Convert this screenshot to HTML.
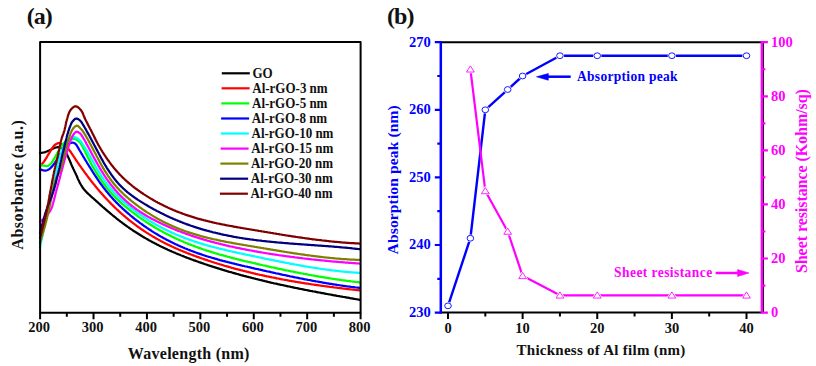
<!DOCTYPE html>
<html><head><meta charset="utf-8"><style>
html,body{margin:0;padding:0;background:#fff;overflow:hidden;}
svg{display:block;}
text{font-family:"Liberation Serif",serif;font-weight:bold;}
</style></head><body>
<svg width="816" height="366" viewBox="0 0 816 366">
<g fill="none" stroke-width="2.25" stroke-linejoin="round" stroke-linecap="round">
<path d="M40.0,153.2L40.9,153.0L41.7,152.8L42.6,152.7L43.5,152.5L44.3,152.3L45.2,152.1L46.0,151.8L46.9,151.5L47.7,151.1L48.5,150.7L49.4,150.3L50.2,149.9L51.0,149.5L51.8,149.1L52.7,148.7L53.5,148.4L54.3,148.0L55.2,147.7L56.0,147.5L56.9,147.3L57.8,147.2L58.8,147.1L59.7,147.2L60.5,147.3L61.4,147.6L62.3,148.1L63.2,148.7L64.0,149.5L64.5,150.1L65.0,150.7L65.4,151.4L65.8,152.2L66.2,153.0L66.7,153.8L67.1,154.6L67.5,155.5L67.8,156.2L68.2,157.0L68.5,157.7L68.9,158.5L69.2,159.4L69.6,160.2L69.9,161.1L70.3,161.9L70.6,162.8L71.0,163.6L71.3,164.4L71.7,165.2L72.0,166.0L72.4,166.8L72.7,167.6L73.1,168.4L73.5,169.2L73.9,169.9L74.2,170.7L74.6,171.5L75.0,172.2L75.3,172.9L75.7,173.7L76.0,174.4L76.4,175.3L76.8,176.1L77.1,177.0L77.5,177.8L77.8,178.6L78.2,179.5L78.6,180.3L79.0,181.1L79.4,181.9L79.8,182.7L80.2,183.5L80.7,184.3L81.1,185.0L81.6,185.8L82.1,186.6L82.5,187.3L83.0,188.0L83.5,188.7L84.1,189.4L84.7,190.1L85.2,190.8L85.8,191.4L86.4,192.0L87.0,192.7L87.7,193.3L88.3,193.9L89.0,194.5L89.7,195.1L90.3,195.7L91.0,196.4L91.7,197.0L92.3,197.6L93.0,198.2L93.7,198.7L94.3,199.3L95.0,199.9L95.7,200.5L96.3,201.1L97.0,201.7L97.7,202.3L98.3,202.9L99.0,203.5L99.7,204.1L100.3,204.7L101.0,205.3L101.7,205.9L102.3,206.5L103.0,207.1L103.7,207.6L104.3,208.2L105.0,208.8L105.7,209.4L106.3,210.0L107.0,210.5L107.7,211.1L108.3,211.7L109.0,212.2L109.7,212.8L110.3,213.4L111.0,213.9L111.7,214.5L112.3,215.0L113.0,215.6L113.7,216.1L114.3,216.7L115.0,217.2L115.7,217.7L116.3,218.3L117.0,218.8L117.7,219.3L118.3,219.9L119.0,220.4L119.7,220.9L120.3,221.4L121.0,221.9L121.7,222.4L122.3,222.9L123.0,223.4L123.8,224.0L124.6,224.6L125.4,225.2L126.2,225.7L127.0,226.3L127.8,226.9L128.6,227.4L129.4,228.0L130.2,228.6L131.0,229.1L131.8,229.6L132.6,230.2L133.4,230.7L134.2,231.2L135.0,231.8L135.8,232.3L136.6,232.8L137.4,233.3L138.2,233.8L139.0,234.3L139.8,234.8L140.6,235.3L141.4,235.8L142.2,236.3L143.0,236.7L143.8,237.2L144.6,237.7L145.4,238.1L146.2,238.6L147.0,239.1L147.8,239.5L148.6,240.0L149.4,240.4L150.2,240.9L151.0,241.3L151.8,241.7L152.6,242.2L153.4,242.6L154.2,243.0L155.0,243.4L155.8,243.8L156.6,244.3L157.4,244.7L158.2,245.1L159.0,245.5L159.8,245.9L160.6,246.3L161.4,246.7L162.2,247.0L163.0,247.4L163.8,247.8L164.6,248.2L165.4,248.6L166.2,248.9L167.0,249.3L167.8,249.7L168.6,250.0L169.4,250.4L170.2,250.8L171.0,251.1L171.8,251.5L172.6,251.8L173.4,252.2L174.2,252.5L175.0,252.8L175.8,253.2L176.6,253.5L177.4,253.9L178.2,254.2L179.0,254.5L179.8,254.8L180.6,255.2L181.4,255.5L182.2,255.8L183.0,256.1L183.8,256.4L184.6,256.8L185.4,257.1L186.2,257.4L187.0,257.7L187.8,258.0L188.6,258.3L189.4,258.6L190.2,258.9L191.0,259.2L191.8,259.5L192.6,259.8L193.4,260.1L194.2,260.4L195.0,260.6L195.8,260.9L196.6,261.2L197.4,261.5L198.2,261.8L199.0,262.1L199.8,262.3L200.6,262.6L201.4,262.9L202.2,263.2L203.0,263.4L203.8,263.7L204.6,264.0L205.4,264.3L206.2,264.5L207.0,264.8L207.8,265.1L208.6,265.3L209.4,265.6L210.2,265.8L211.0,266.1L211.8,266.4L212.6,266.6L213.4,266.9L214.2,267.1L215.0,267.4L215.8,267.7L216.6,267.9L217.4,268.2L218.2,268.4L219.0,268.7L219.8,268.9L220.6,269.2L221.4,269.4L222.2,269.6L223.0,269.9L223.8,270.1L224.6,270.4L225.4,270.6L226.2,270.8L227.0,271.1L227.8,271.3L228.6,271.6L229.4,271.8L230.2,272.0L231.0,272.2L232.0,272.5L233.0,272.8L234.0,273.1L235.0,273.4L236.0,273.7L237.0,274.0L238.0,274.2L239.0,274.5L240.0,274.8L241.0,275.1L242.0,275.3L243.0,275.6L244.0,275.9L245.0,276.1L246.0,276.4L247.0,276.7L248.0,276.9L249.0,277.2L250.0,277.4L251.0,277.7L252.0,278.0L253.0,278.2L254.0,278.5L255.0,278.7L256.0,279.0L257.0,279.2L258.0,279.5L259.0,279.7L260.0,280.0L261.0,280.2L262.0,280.4L263.0,280.7L264.0,280.9L265.0,281.2L266.0,281.4L267.0,281.6L268.0,281.9L269.0,282.1L270.0,282.3L271.0,282.6L272.0,282.8L273.0,283.0L274.0,283.3L275.0,283.5L276.0,283.7L277.0,283.9L278.0,284.2L279.0,284.4L280.0,284.6L281.0,284.8L282.0,285.0L283.0,285.2L284.0,285.5L285.0,285.7L286.0,285.9L287.0,286.1L288.0,286.3L289.0,286.5L290.0,286.7L291.0,287.0L292.0,287.2L293.0,287.4L294.0,287.6L295.0,287.8L296.0,288.0L297.0,288.2L298.0,288.4L299.0,288.6L300.0,288.8L301.0,289.0L302.0,289.2L303.0,289.4L304.0,289.6L305.0,289.8L306.0,290.0L307.0,290.2L308.0,290.4L309.0,290.6L310.0,290.8L311.0,291.0L312.0,291.2L313.0,291.4L314.0,291.5L315.0,291.7L316.0,291.9L317.0,292.1L318.0,292.3L319.0,292.5L320.0,292.7L321.0,292.9L322.0,293.1L323.0,293.2L324.0,293.4L325.0,293.6L326.0,293.8L327.0,294.0L328.0,294.2L329.0,294.3L330.0,294.5L331.0,294.7L332.0,294.9L333.0,295.1L334.0,295.3L335.0,295.4L336.0,295.6L337.0,295.8L338.0,296.0L339.0,296.1L340.0,296.3L341.0,296.5L342.0,296.7L343.0,296.9L344.0,297.0L345.0,297.2L346.0,297.4L347.0,297.6L348.0,297.7L349.0,297.9L350.0,298.1L351.0,298.3L352.0,298.4L353.0,298.6L354.0,298.8L355.0,299.0L356.1,299.2L357.2,299.3L358.2,299.5L359.0,299.7L359.5,299.8L360.0,299.9" stroke="#000000"/>
<path d="M40.0,166.5L40.6,165.8L41.2,165.1L41.7,164.4L42.3,163.7L42.9,162.9L43.5,162.2L44.1,161.5L44.6,160.7L45.1,160.0L45.6,159.2L46.1,158.4L46.5,157.6L47.0,156.8L47.4,156.0L47.9,155.2L48.4,154.4L48.9,153.6L49.4,152.9L49.8,152.1L50.3,151.2L50.8,150.4L51.3,149.6L51.8,148.8L52.3,148.0L52.9,147.2L53.4,146.5L53.9,145.9L54.4,145.4L55.2,144.7L55.9,144.2L56.7,143.7L57.5,143.4L58.2,143.2L59.2,143.2L60.1,143.5L61.0,143.8L61.8,144.2L62.6,144.7L63.5,145.3L64.1,145.7L64.8,146.2L65.5,146.7L66.3,147.3L67.0,147.8L67.7,148.5L68.4,149.1L69.0,149.8L69.6,150.5L70.2,151.2L70.7,152.0L71.3,152.8L71.8,153.6L72.3,154.4L72.8,155.1L73.3,155.9L73.8,156.7L74.3,157.4L74.8,158.2L75.3,159.0L75.8,159.8L76.3,160.4L76.8,161.1L77.3,161.9L77.8,162.6L78.3,163.3L78.8,164.0L79.3,164.8L79.8,165.5L80.3,166.2L80.8,166.9L81.3,167.6L81.8,168.3L82.3,169.0L82.8,169.7L83.3,170.4L83.8,171.1L84.3,171.8L84.8,172.5L85.3,173.2L85.8,173.8L86.3,174.5L86.8,175.2L87.3,175.9L87.8,176.5L88.4,177.3L88.9,178.0L89.5,178.8L90.1,179.5L90.7,180.3L91.2,181.0L91.8,181.7L92.4,182.5L92.9,183.2L93.5,183.9L94.1,184.6L94.7,185.3L95.2,186.0L95.8,186.7L96.4,187.4L96.9,188.1L97.5,188.8L98.1,189.5L98.7,190.1L99.2,190.8L99.8,191.5L100.4,192.1L100.9,192.8L101.5,193.4L102.1,194.1L102.7,194.7L103.2,195.4L103.8,196.0L104.4,196.6L104.9,197.3L105.5,197.9L106.1,198.5L106.7,199.1L107.2,199.7L107.8,200.3L108.5,201.0L109.1,201.7L109.8,202.4L110.5,203.1L111.1,203.8L111.8,204.4L112.5,205.1L113.1,205.8L113.8,206.4L114.5,207.1L115.1,207.7L115.8,208.4L116.5,209.0L117.1,209.6L117.8,210.2L118.5,210.8L119.1,211.5L119.8,212.1L120.5,212.7L121.1,213.3L121.8,213.9L122.5,214.4L123.1,215.0L123.8,215.6L124.5,216.2L125.1,216.7L125.8,217.3L126.5,217.9L127.1,218.4L127.8,219.0L128.5,219.5L129.1,220.1L129.8,220.6L130.5,221.1L131.1,221.7L131.8,222.2L132.5,222.7L133.1,223.2L133.8,223.7L134.5,224.2L135.1,224.7L135.8,225.2L136.6,225.8L137.4,226.4L138.2,227.0L139.0,227.5L139.8,228.1L140.6,228.7L141.4,229.2L142.2,229.8L143.0,230.3L143.8,230.8L144.6,231.4L145.4,231.9L146.2,232.4L147.0,232.9L147.8,233.4L148.6,233.9L149.4,234.4L150.2,234.9L151.0,235.4L151.8,235.9L152.6,236.4L153.4,236.8L154.2,237.3L155.0,237.8L155.8,238.2L156.6,238.7L157.4,239.1L158.2,239.6L159.0,240.0L159.8,240.4L160.6,240.9L161.4,241.3L162.2,241.7L163.0,242.1L163.8,242.6L164.6,243.0L165.4,243.4L166.2,243.8L167.0,244.2L167.8,244.6L168.6,244.9L169.4,245.3L170.2,245.7L171.0,246.1L171.8,246.5L172.6,246.8L173.4,247.2L174.2,247.6L175.0,247.9L175.8,248.3L176.6,248.6L177.4,249.0L178.2,249.3L179.0,249.7L179.8,250.0L180.6,250.4L181.4,250.7L182.2,251.0L183.0,251.4L183.8,251.7L184.6,252.0L185.4,252.3L186.2,252.6L187.0,253.0L187.8,253.3L188.6,253.6L189.4,253.9L190.2,254.2L191.0,254.5L191.8,254.8L192.6,255.1L193.4,255.4L194.2,255.7L195.0,256.0L195.8,256.3L196.6,256.6L197.4,256.9L198.2,257.1L199.0,257.4L199.8,257.7L200.6,258.0L201.4,258.3L202.2,258.5L203.0,258.8L203.8,259.1L204.6,259.4L205.4,259.6L206.2,259.9L207.0,260.2L207.8,260.4L208.6,260.7L209.4,261.0L210.2,261.2L211.0,261.5L211.8,261.8L212.6,262.0L213.4,262.3L214.2,262.5L215.0,262.8L215.8,263.0L216.6,263.3L217.4,263.5L218.2,263.8L219.0,264.0L219.8,264.3L220.6,264.5L221.4,264.7L222.2,265.0L223.0,265.2L223.8,265.5L224.8,265.8L225.8,266.0L226.8,266.3L227.8,266.6L228.8,266.9L229.8,267.2L230.8,267.5L231.8,267.8L232.8,268.0L233.8,268.3L234.8,268.6L235.8,268.9L236.8,269.1L237.8,269.4L238.8,269.6L239.8,269.9L240.8,270.2L241.8,270.4L242.8,270.7L243.8,270.9L244.8,271.2L245.8,271.4L246.8,271.7L247.8,271.9L248.8,272.2L249.8,272.4L250.8,272.7L251.8,272.9L252.8,273.1L253.8,273.4L254.8,273.6L255.8,273.9L256.8,274.1L257.8,274.3L258.8,274.5L259.8,274.8L260.8,275.0L261.8,275.2L262.8,275.4L263.8,275.6L264.8,275.9L265.8,276.1L266.8,276.3L267.8,276.5L268.8,276.7L269.8,276.9L270.8,277.1L271.8,277.3L272.8,277.5L273.8,277.7L274.8,277.9L275.8,278.1L276.8,278.3L277.8,278.5L278.8,278.7L279.8,278.9L280.8,279.1L281.8,279.3L282.8,279.5L283.8,279.7L284.8,279.8L285.8,280.0L286.8,280.2L287.8,280.4L288.8,280.6L289.8,280.8L290.8,280.9L291.8,281.1L292.8,281.3L293.8,281.4L294.8,281.6L295.8,281.8L296.8,282.0L297.8,282.1L298.8,282.3L299.8,282.4L300.8,282.6L301.8,282.8L302.8,282.9L303.8,283.1L304.8,283.3L305.8,283.4L306.8,283.6L307.8,283.7L308.8,283.9L309.8,284.0L310.8,284.2L311.8,284.3L312.8,284.5L313.8,284.6L314.8,284.8L315.8,284.9L316.8,285.1L317.8,285.2L318.8,285.3L319.8,285.5L320.8,285.6L321.8,285.8L322.8,285.9L323.8,286.0L324.8,286.2L325.8,286.3L326.8,286.4L327.8,286.6L328.8,286.7L329.8,286.8L330.8,287.0L331.8,287.1L332.8,287.2L333.8,287.4L334.8,287.5L335.8,287.6L336.8,287.7L337.8,287.9L338.8,288.0L339.8,288.1L340.8,288.2L341.8,288.3L342.8,288.5L343.8,288.6L344.8,288.7L345.8,288.8L346.8,288.9L347.8,289.1L348.8,289.2L349.8,289.3L350.8,289.4L351.8,289.5L352.8,289.6L353.8,289.7L354.8,289.9L355.8,290.0L356.9,290.1L358.1,290.2L359.2,290.3L359.8,290.4L359.9,290.4L360.0,290.4" stroke="#ff0000"/>
<path d="M40.0,165.0L41.0,165.2L42.0,165.3L43.0,165.5L44.0,165.6L44.9,165.8L45.8,166.0L46.7,166.1L47.5,166.0L48.2,165.7L49.0,165.3L49.7,164.8L50.3,164.2L51.0,163.5L51.5,162.9L52.0,162.2L52.5,161.5L53.0,160.7L53.5,159.9L53.9,159.1L54.4,158.3L54.9,157.5L55.3,156.8L55.7,156.0L56.2,155.2L56.6,154.4L57.1,153.6L57.5,152.8L58.0,152.0L58.4,151.3L58.9,150.5L59.3,149.7L59.7,149.0L60.2,148.2L60.6,147.5L61.1,146.7L61.5,146.0L62.0,145.4L62.6,144.6L63.3,143.8L63.9,143.1L64.6,142.5L65.3,141.8L66.0,141.3L66.8,140.8L67.6,140.4L68.5,140.1L69.3,139.8L70.2,139.5L71.0,139.3L72.0,139.1L73.0,138.9L74.0,138.8L75.0,139.0L75.7,139.3L76.5,139.6L77.2,140.1L78.0,140.7L78.7,141.3L79.4,141.9L80.0,142.5L80.5,143.1L81.0,143.8L81.4,144.5L81.8,145.2L82.2,146.0L82.6,146.7L83.0,147.6L83.4,148.3L83.8,149.0L84.2,149.8L84.6,150.6L85.0,151.5L85.4,152.3L85.8,153.1L86.2,154.0L86.6,154.8L87.0,155.6L87.4,156.4L87.8,157.2L88.2,158.0L88.6,158.8L89.0,159.6L89.4,160.4L89.8,161.1L90.2,161.9L90.6,162.7L91.0,163.5L91.4,164.3L91.9,165.1L92.3,165.9L92.8,166.7L93.2,167.4L93.6,168.2L94.1,169.0L94.5,169.7L95.0,170.5L95.4,171.2L95.9,172.0L96.3,172.7L96.8,173.4L97.2,174.1L97.7,174.8L98.1,175.5L98.5,176.2L99.0,176.9L99.5,177.7L100.0,178.4L100.5,179.1L101.0,179.9L101.5,180.6L102.0,181.3L102.5,182.0L103.0,182.7L103.6,183.5L104.1,184.3L104.7,185.0L105.3,185.8L105.8,186.5L106.4,187.3L107.0,188.0L107.6,188.7L108.1,189.4L108.7,190.1L109.3,190.7L109.8,191.4L110.4,192.1L111.0,192.7L111.6,193.4L112.1,194.0L112.7,194.6L113.3,195.2L113.8,195.8L114.4,196.4L115.0,197.0L115.7,197.7L116.3,198.4L117.0,199.0L117.7,199.7L118.3,200.3L119.0,200.9L119.7,201.6L120.3,202.2L121.0,202.8L121.7,203.4L122.3,204.0L123.0,204.6L123.7,205.1L124.3,205.7L125.0,206.3L125.7,206.8L126.3,207.4L127.0,207.9L127.7,208.5L128.3,209.0L129.0,209.5L129.7,210.1L130.3,210.6L131.0,211.1L131.7,211.6L132.3,212.1L133.0,212.6L133.7,213.1L134.3,213.6L135.0,214.1L135.8,214.7L136.6,215.3L137.4,215.9L138.2,216.5L139.0,217.1L139.8,217.6L140.6,218.2L141.4,218.7L142.2,219.3L143.0,219.8L143.8,220.4L144.6,220.9L145.4,221.4L146.2,222.0L147.0,222.5L147.8,223.0L148.6,223.5L149.4,224.0L150.2,224.5L151.0,225.0L151.8,225.5L152.6,226.0L153.4,226.5L154.2,227.0L155.0,227.5L155.8,227.9L156.6,228.4L157.4,228.9L158.2,229.3L159.0,229.8L159.8,230.2L160.6,230.7L161.4,231.1L162.2,231.6L163.0,232.0L163.8,232.4L164.6,232.9L165.4,233.3L166.2,233.7L167.0,234.1L167.8,234.5L168.6,234.9L169.4,235.3L170.2,235.7L171.0,236.1L171.8,236.5L172.6,236.9L173.4,237.3L174.2,237.7L175.0,238.1L175.8,238.4L176.6,238.8L177.4,239.2L178.2,239.5L179.0,239.9L179.8,240.2L180.6,240.6L181.4,240.9L182.2,241.3L183.0,241.6L183.8,242.0L184.6,242.3L185.4,242.7L186.2,243.0L187.0,243.3L187.8,243.6L188.6,244.0L189.4,244.3L190.2,244.6L191.0,244.9L191.8,245.2L192.6,245.5L193.4,245.8L194.2,246.1L195.0,246.4L195.8,246.7L196.6,247.0L197.4,247.3L198.2,247.6L199.0,247.9L199.8,248.2L200.6,248.4L201.4,248.7L202.2,249.0L203.0,249.3L203.8,249.5L204.6,249.8L205.4,250.1L206.2,250.3L207.0,250.6L207.8,250.8L208.6,251.1L209.4,251.4L210.2,251.6L211.0,251.9L211.8,252.1L212.6,252.4L213.4,252.6L214.2,252.8L215.0,253.1L215.8,253.3L216.6,253.6L217.4,253.8L218.2,254.0L219.0,254.3L220.0,254.6L221.0,254.8L222.0,255.1L223.0,255.4L224.0,255.7L225.0,255.9L226.0,256.2L227.0,256.5L228.0,256.8L229.0,257.0L230.0,257.3L231.0,257.6L232.0,257.8L233.0,258.1L234.0,258.3L235.0,258.6L236.0,258.8L237.0,259.1L238.0,259.3L239.0,259.6L240.0,259.8L241.0,260.1L242.0,260.3L243.0,260.6L244.0,260.8L245.0,261.1L246.0,261.3L247.0,261.5L248.0,261.8L249.0,262.0L250.0,262.2L251.0,262.5L252.0,262.7L253.0,263.0L254.0,263.2L255.0,263.4L256.0,263.7L257.0,263.9L258.0,264.1L259.0,264.4L260.0,264.6L261.0,264.8L262.0,265.0L263.0,265.3L264.0,265.5L265.0,265.7L266.0,265.9L267.0,266.2L268.0,266.4L269.0,266.6L270.0,266.8L271.0,267.1L272.0,267.3L273.0,267.5L274.0,267.7L275.0,267.9L276.0,268.2L277.0,268.4L278.0,268.6L279.0,268.8L280.0,269.0L281.0,269.2L282.0,269.4L283.0,269.7L284.0,269.9L285.0,270.1L286.0,270.3L287.0,270.5L288.0,270.7L289.0,270.9L290.0,271.1L291.0,271.3L292.0,271.5L293.0,271.7L294.0,271.9L295.0,272.1L296.0,272.3L297.0,272.5L298.0,272.7L299.0,272.9L300.0,273.1L301.0,273.3L302.0,273.5L303.0,273.7L304.0,273.9L305.0,274.0L306.0,274.2L307.0,274.4L308.0,274.6L309.0,274.8L310.0,275.0L311.0,275.1L312.0,275.3L313.0,275.5L314.0,275.7L315.0,275.9L316.0,276.0L317.0,276.2L318.0,276.4L319.0,276.6L320.0,276.7L321.0,276.9L322.0,277.1L323.0,277.2L324.0,277.4L325.0,277.6L326.0,277.7L327.0,277.9L328.0,278.0L329.0,278.2L330.0,278.4L331.0,278.5L332.0,278.7L333.0,278.8L334.0,279.0L335.0,279.1L336.0,279.3L337.0,279.4L338.0,279.6L339.0,279.7L340.0,279.9L341.0,280.0L342.0,280.2L343.0,280.3L344.0,280.4L345.0,280.6L346.0,280.7L347.0,280.8L348.0,281.0L349.0,281.1L350.0,281.2L351.0,281.4L352.0,281.5L353.0,281.6L354.0,281.7L355.0,281.8L356.1,282.0L357.2,282.1L358.2,282.2L359.0,282.3L359.5,282.4L360.0,282.4" stroke="#00ff00"/>
<path d="M40.0,169.5L40.9,169.7L41.8,169.9L42.6,170.1L43.5,170.3L44.4,170.5L45.2,170.5L46.0,170.5L46.9,170.3L47.7,170.0L48.5,169.6L49.2,169.1L50.0,168.5L50.6,168.0L51.2,167.4L51.8,166.8L52.3,166.1L52.9,165.4L53.5,164.7L54.0,164.0L54.5,163.3L55.0,162.6L55.5,161.8L56.0,161.1L56.5,160.3L57.0,159.5L57.5,158.8L58.0,158.0L58.5,157.2L59.0,156.5L59.5,155.7L60.0,155.0L60.5,154.2L61.0,153.5L61.5,152.7L62.0,152.0L62.5,151.3L63.0,150.6L63.5,149.8L64.0,149.1L64.5,148.4L65.0,147.7L65.5,147.1L66.0,146.5L66.7,145.8L67.4,145.1L68.1,144.5L68.8,143.9L69.5,143.5L70.3,143.1L71.2,142.8L72.0,142.7L73.0,142.7L74.0,143.0L75.0,143.5L75.5,143.9L76.0,144.5L76.6,145.2L77.1,146.0L77.6,146.9L78.1,147.7L78.6,148.6L79.1,149.5L79.6,150.3L80.0,151.0L80.5,151.8L80.9,152.5L81.3,153.2L81.7,153.9L82.1,154.6L82.6,155.3L83.0,156.1L83.4,156.8L83.8,157.5L84.3,158.2L84.7,158.9L85.2,159.7L85.6,160.4L86.1,161.2L86.6,161.9L87.0,162.7L87.4,163.4L87.9,164.1L88.3,164.8L88.8,165.5L89.2,166.3L89.7,167.0L90.1,167.7L90.6,168.4L91.0,169.1L91.5,169.9L92.0,170.7L92.5,171.5L93.0,172.3L93.5,173.1L94.0,173.9L94.5,174.7L95.0,175.4L95.5,176.2L96.0,177.0L96.5,177.7L97.0,178.4L97.5,179.2L98.0,179.9L98.5,180.7L99.0,181.4L99.5,182.1L100.0,182.8L100.5,183.5L101.0,184.2L101.5,184.8L102.0,185.5L102.5,186.2L103.0,186.9L103.6,187.6L104.1,188.3L104.7,189.1L105.3,189.8L105.8,190.5L106.4,191.2L107.0,191.9L107.6,192.6L108.1,193.3L108.7,194.0L109.3,194.7L109.8,195.3L110.4,196.0L111.0,196.7L111.6,197.3L112.1,197.9L112.7,198.6L113.3,199.2L113.8,199.8L114.4,200.4L115.0,201.0L115.7,201.7L116.3,202.4L117.0,203.1L117.7,203.8L118.3,204.4L119.0,205.1L119.7,205.7L120.3,206.4L121.0,207.0L121.7,207.6L122.3,208.3L123.0,208.9L123.7,209.5L124.3,210.1L125.0,210.7L125.7,211.3L126.3,211.9L127.0,212.5L127.7,213.0L128.3,213.6L129.0,214.2L129.7,214.7L130.3,215.3L131.0,215.9L131.7,216.4L132.3,217.0L133.0,217.5L133.7,218.0L134.3,218.6L135.0,219.1L135.7,219.6L136.3,220.1L137.0,220.6L137.7,221.2L138.3,221.7L139.0,222.2L139.8,222.8L140.6,223.4L141.4,223.9L142.2,224.5L143.0,225.1L143.8,225.7L144.6,226.2L145.4,226.8L146.2,227.3L147.0,227.9L147.8,228.4L148.6,229.0L149.4,229.5L150.2,230.0L151.0,230.5L151.8,231.1L152.6,231.6L153.4,232.1L154.2,232.6L155.0,233.1L155.8,233.6L156.6,234.0L157.4,234.5L158.2,235.0L159.0,235.5L159.8,235.9L160.6,236.4L161.4,236.8L162.2,237.3L163.0,237.7L163.8,238.2L164.6,238.6L165.4,239.0L166.2,239.5L167.0,239.9L167.8,240.3L168.6,240.7L169.4,241.1L170.2,241.5L171.0,241.9L171.8,242.3L172.6,242.7L173.4,243.1L174.2,243.5L175.0,243.9L175.8,244.3L176.6,244.6L177.4,245.0L178.2,245.4L179.0,245.7L179.8,246.1L180.6,246.4L181.4,246.8L182.2,247.1L183.0,247.5L183.8,247.8L184.6,248.2L185.4,248.5L186.2,248.8L187.0,249.1L187.8,249.5L188.6,249.8L189.4,250.1L190.2,250.4L191.0,250.7L191.8,251.0L192.6,251.3L193.4,251.6L194.2,251.9L195.0,252.2L195.8,252.5L196.6,252.8L197.4,253.1L198.2,253.4L199.0,253.6L199.8,253.9L200.6,254.2L201.4,254.4L202.2,254.7L203.0,255.0L203.8,255.2L204.6,255.5L205.4,255.8L206.2,256.0L207.0,256.3L207.8,256.5L208.6,256.8L209.4,257.0L210.2,257.2L211.0,257.5L211.8,257.7L212.6,258.0L213.4,258.2L214.2,258.4L215.0,258.7L216.0,258.9L217.0,259.2L218.0,259.5L219.0,259.8L220.0,260.1L221.0,260.3L222.0,260.6L223.0,260.9L224.0,261.1L225.0,261.4L226.0,261.7L227.0,261.9L228.0,262.2L229.0,262.4L230.0,262.7L231.0,262.9L232.0,263.2L233.0,263.4L234.0,263.6L235.0,263.9L236.0,264.1L237.0,264.4L238.0,264.6L239.0,264.9L240.0,265.1L241.0,265.3L242.0,265.6L243.0,265.8L244.0,266.0L245.0,266.3L246.0,266.5L247.0,266.7L248.0,267.0L249.0,267.2L250.0,267.4L251.0,267.6L252.0,267.9L253.0,268.1L254.0,268.3L255.0,268.6L256.0,268.8L257.0,269.0L258.0,269.2L259.0,269.5L260.0,269.7L261.0,269.9L262.0,270.1L263.0,270.4L264.0,270.6L265.0,270.8L266.0,271.0L267.0,271.3L268.0,271.5L269.0,271.7L270.0,271.9L271.0,272.2L272.0,272.4L273.0,272.6L274.0,272.8L275.0,273.0L276.0,273.3L277.0,273.5L278.0,273.7L279.0,273.9L280.0,274.1L281.0,274.3L282.0,274.6L283.0,274.8L284.0,275.0L285.0,275.2L286.0,275.4L287.0,275.6L288.0,275.8L289.0,276.0L290.0,276.3L291.0,276.5L292.0,276.7L293.0,276.9L294.0,277.1L295.0,277.3L296.0,277.5L297.0,277.7L298.0,277.9L299.0,278.1L300.0,278.3L301.0,278.5L302.0,278.7L303.0,278.9L304.0,279.1L305.0,279.3L306.0,279.5L307.0,279.7L308.0,279.9L309.0,280.0L310.0,280.2L311.0,280.4L312.0,280.6L313.0,280.8L314.0,281.0L315.0,281.2L316.0,281.4L317.0,281.5L318.0,281.7L319.0,281.9L320.0,282.1L321.0,282.2L322.0,282.4L323.0,282.6L324.0,282.8L325.0,282.9L326.0,283.1L327.0,283.3L328.0,283.4L329.0,283.6L330.0,283.8L331.0,283.9L332.0,284.1L333.0,284.3L334.0,284.4L335.0,284.6L336.0,284.7L337.0,284.9L338.0,285.0L339.0,285.2L340.0,285.3L341.0,285.5L342.0,285.6L343.0,285.8L344.0,285.9L345.0,286.0L346.0,286.2L347.0,286.3L348.0,286.5L349.0,286.6L350.0,286.7L351.0,286.9L352.0,287.0L353.0,287.1L354.0,287.2L355.0,287.4L356.1,287.5L357.2,287.6L358.2,287.7L359.0,287.8L359.5,287.9L360.0,287.9" stroke="#0000ff"/>
<path d="M40.0,247.0L40.2,246.2L40.3,245.4L40.5,244.5L40.7,243.7L40.9,242.9L41.0,242.1L41.2,241.3L41.4,240.5L41.6,239.7L41.7,238.8L41.9,238.0L42.1,237.2L42.3,236.4L42.4,235.6L42.6,234.7L42.8,233.9L43.0,233.1L43.1,232.3L43.3,231.4L43.5,230.6L43.6,229.7L43.8,228.9L44.0,228.0L44.2,227.2L44.3,226.4L44.5,225.6L44.6,224.8L44.8,224.0L45.0,223.1L45.1,222.3L45.3,221.4L45.4,220.6L45.6,219.7L45.7,218.9L45.9,218.0L46.1,217.2L46.2,216.3L46.4,215.5L46.5,214.6L46.7,213.8L46.9,212.9L47.0,212.1L47.2,211.3L47.3,210.4L47.5,209.6L47.7,208.8L47.8,208.0L48.0,207.3L48.2,206.5L48.3,205.7L48.5,205.0L48.7,204.1L48.9,203.2L49.1,202.3L49.4,201.5L49.6,200.7L49.8,199.8L50.0,199.0L50.2,198.2L50.5,197.4L50.7,196.6L50.9,195.8L51.1,195.0L51.3,194.2L51.6,193.4L51.8,192.6L52.0,191.7L52.2,190.9L52.4,190.0L52.6,189.2L52.8,188.4L52.9,187.6L53.1,186.8L53.3,186.0L53.4,185.1L53.6,184.3L53.8,183.4L53.9,182.6L54.1,181.7L54.3,180.8L54.4,180.0L54.6,179.1L54.7,178.2L54.9,177.4L55.1,176.5L55.2,175.7L55.4,174.8L55.6,174.0L55.7,173.2L55.9,172.3L56.1,171.5L56.2,170.8L56.4,170.0L56.6,169.1L56.8,168.2L57.0,167.3L57.2,166.5L57.4,165.6L57.6,164.8L57.8,163.9L58.0,163.1L58.2,162.3L58.4,161.5L58.6,160.6L58.9,159.8L59.1,159.1L59.3,158.3L59.5,157.5L59.8,156.8L60.0,156.0L60.3,155.1L60.6,154.2L60.9,153.3L61.2,152.4L61.6,151.5L61.9,150.7L62.2,149.9L62.6,149.0L62.9,148.2L63.3,147.5L63.6,146.7L64.0,146.0L64.5,145.1L64.9,144.3L65.4,143.5L65.9,142.7L66.4,141.9L66.9,141.2L67.5,140.6L68.0,140.0L68.7,139.3L69.4,138.8L70.1,138.2L70.8,137.8L71.5,137.5L72.3,137.3L73.2,137.1L74.1,137.1L75.0,137.3L75.7,137.5L76.4,137.9L77.2,138.3L78.0,138.8L78.7,139.4L79.4,139.9L80.0,140.5L80.6,141.1L81.1,141.8L81.6,142.5L82.0,143.2L82.5,143.9L83.0,144.7L83.5,145.4L84.0,146.2L84.5,147.0L85.0,147.7L85.5,148.5L86.0,149.4L86.5,150.2L87.0,151.0L87.5,151.7L87.9,152.5L88.3,153.3L88.8,154.1L89.2,154.8L89.7,155.6L90.1,156.4L90.6,157.2L91.0,158.0L91.4,158.8L91.9,159.6L92.3,160.4L92.8,161.2L93.2,162.0L93.7,162.8L94.1,163.6L94.6,164.4L95.0,165.2L95.4,166.0L95.9,166.8L96.3,167.6L96.8,168.3L97.2,169.1L97.7,169.9L98.1,170.6L98.5,171.4L99.0,172.2L99.5,173.0L100.0,173.7L100.5,174.5L101.0,175.3L101.5,176.1L102.0,176.9L102.5,177.6L103.0,178.4L103.5,179.1L104.0,179.8L104.5,180.5L105.0,181.2L105.5,181.9L106.0,182.6L106.5,183.3L107.0,183.9L107.6,184.7L108.1,185.4L108.7,186.1L109.3,186.8L109.8,187.5L110.4,188.2L111.0,188.9L111.6,189.6L112.1,190.2L112.7,190.9L113.3,191.5L113.8,192.2L114.4,192.8L115.0,193.4L115.7,194.1L116.3,194.8L117.0,195.5L117.7,196.2L118.3,196.8L119.0,197.5L119.7,198.1L120.3,198.7L121.0,199.4L121.7,200.0L122.3,200.6L123.0,201.2L123.7,201.8L124.3,202.3L125.0,202.9L125.7,203.5L126.3,204.0L127.0,204.6L127.7,205.1L128.3,205.7L129.0,206.2L129.7,206.7L130.3,207.3L131.0,207.8L131.7,208.3L132.3,208.8L133.0,209.3L133.7,209.8L134.3,210.3L135.0,210.8L135.8,211.4L136.6,212.0L137.4,212.6L138.2,213.2L139.0,213.7L139.8,214.3L140.6,214.8L141.4,215.4L142.2,215.9L143.0,216.5L143.8,217.0L144.6,217.5L145.4,218.1L146.2,218.6L147.0,219.1L147.8,219.6L148.6,220.1L149.4,220.6L150.2,221.1L151.0,221.6L151.8,222.1L152.6,222.5L153.4,223.0L154.2,223.5L155.0,223.9L155.8,224.4L156.6,224.8L157.4,225.3L158.2,225.7L159.0,226.2L159.8,226.6L160.6,227.0L161.4,227.5L162.2,227.9L163.0,228.3L163.8,228.7L164.6,229.1L165.4,229.5L166.2,229.9L167.0,230.3L167.8,230.7L168.6,231.1L169.4,231.4L170.2,231.8L171.0,232.2L171.8,232.6L172.6,232.9L173.4,233.3L174.2,233.6L175.0,234.0L175.8,234.3L176.6,234.7L177.4,235.0L178.2,235.3L179.0,235.7L179.8,236.0L180.6,236.3L181.4,236.7L182.2,237.0L183.0,237.3L183.8,237.6L184.6,237.9L185.4,238.2L186.2,238.5L187.0,238.8L187.8,239.1L188.6,239.4L189.4,239.7L190.2,240.0L191.0,240.2L191.8,240.5L192.6,240.8L193.4,241.1L194.2,241.3L195.0,241.6L195.8,241.9L196.6,242.1L197.4,242.4L198.2,242.7L199.0,242.9L199.8,243.2L200.6,243.4L201.4,243.6L202.2,243.9L203.0,244.1L203.8,244.4L204.6,244.6L205.4,244.8L206.2,245.1L207.0,245.3L208.0,245.6L209.0,245.9L210.0,246.1L211.0,246.4L212.0,246.7L213.0,246.9L214.0,247.2L215.0,247.5L216.0,247.7L217.0,248.0L218.0,248.2L219.0,248.5L220.0,248.7L221.0,249.0L222.0,249.2L223.0,249.5L224.0,249.7L225.0,249.9L226.0,250.2L227.0,250.4L228.0,250.6L229.0,250.9L230.0,251.1L231.0,251.3L232.0,251.5L233.0,251.8L234.0,252.0L235.0,252.2L236.0,252.4L237.0,252.6L238.0,252.9L239.0,253.1L240.0,253.3L241.0,253.5L242.0,253.7L243.0,253.9L244.0,254.1L245.0,254.4L246.0,254.6L247.0,254.8L248.0,255.0L249.0,255.2L250.0,255.4L251.0,255.6L252.0,255.8L253.0,256.0L254.0,256.2L255.0,256.5L256.0,256.7L257.0,256.9L258.0,257.1L259.0,257.3L260.0,257.5L261.0,257.7L262.0,257.9L263.0,258.1L264.0,258.3L265.0,258.6L266.0,258.8L267.0,259.0L268.0,259.2L269.0,259.4L270.0,259.6L271.0,259.8L272.0,260.0L273.0,260.2L274.0,260.4L275.0,260.6L276.0,260.8L277.0,261.0L278.0,261.2L279.0,261.4L280.0,261.6L281.0,261.8L282.0,262.0L283.0,262.2L284.0,262.4L285.0,262.6L286.0,262.8L287.0,263.0L288.0,263.2L289.0,263.4L290.0,263.6L291.0,263.8L292.0,263.9L293.0,264.1L294.0,264.3L295.0,264.5L296.0,264.7L297.0,264.9L298.0,265.0L299.0,265.2L300.0,265.4L301.0,265.6L302.0,265.8L303.0,265.9L304.0,266.1L305.0,266.3L306.0,266.5L307.0,266.6L308.0,266.8L309.0,267.0L310.0,267.1L311.0,267.3L312.0,267.5L313.0,267.6L314.0,267.8L315.0,267.9L316.0,268.1L317.0,268.2L318.0,268.4L319.0,268.5L320.0,268.7L321.0,268.8L322.0,269.0L323.0,269.1L324.0,269.3L325.0,269.4L326.0,269.5L327.0,269.7L328.0,269.8L329.0,269.9L330.0,270.1L331.0,270.2L332.0,270.3L333.0,270.5L334.0,270.6L335.0,270.7L336.0,270.8L337.0,270.9L338.0,271.0L339.0,271.1L340.0,271.3L341.0,271.4L342.0,271.5L343.0,271.6L344.0,271.7L345.0,271.8L346.0,271.9L347.0,271.9L348.0,272.0L349.0,272.1L350.0,272.2L351.0,272.3L352.0,272.4L353.0,272.4L354.0,272.5L355.0,272.6L356.1,272.7L357.2,272.7L358.2,272.8L359.0,272.9L359.5,272.9L360.0,272.9" stroke="#00ffff"/>
<path d="M40.0,222.0L40.7,221.4L41.4,220.8L42.1,220.2L42.7,219.5L43.4,218.9L44.1,218.2L44.8,217.5L45.3,216.9L45.9,216.3L46.4,215.8L47.0,215.1L47.5,214.5L48.1,213.9L48.6,213.2L49.1,212.5L49.6,211.7L50.1,210.9L50.6,210.0L50.9,209.4L51.2,208.8L51.5,208.1L51.7,207.4L52.0,206.7L52.3,205.9L52.5,205.2L52.7,204.4L53.0,203.6L53.2,202.8L53.4,201.9L53.7,201.1L53.9,200.2L54.1,199.4L54.3,198.5L54.5,197.6L54.8,196.8L55.0,195.9L55.2,195.0L55.4,194.2L55.6,193.3L55.8,192.5L56.1,191.6L56.3,190.8L56.5,190.0L56.7,189.2L57.0,188.3L57.2,187.5L57.4,186.6L57.7,185.8L57.9,184.9L58.1,184.1L58.4,183.2L58.6,182.4L58.8,181.5L59.0,180.7L59.3,179.8L59.5,179.0L59.7,178.1L59.9,177.3L60.2,176.5L60.4,175.6L60.6,174.8L60.8,174.0L61.0,173.2L61.3,172.4L61.5,171.6L61.7,170.8L61.9,170.0L62.1,169.1L62.4,168.2L62.6,167.4L62.8,166.5L63.1,165.6L63.3,164.8L63.5,164.0L63.7,163.1L64.0,162.3L64.2,161.5L64.4,160.7L64.6,159.8L64.9,159.0L65.1,158.2L65.3,157.4L65.5,156.6L65.8,155.8L66.0,155.0L66.2,154.2L66.5,153.3L66.7,152.4L67.0,151.6L67.2,150.7L67.5,149.9L67.7,149.0L68.0,148.2L68.2,147.4L68.5,146.6L68.7,145.7L69.0,145.0L69.2,144.2L69.5,143.4L69.7,142.7L70.0,142.0L70.4,141.0L70.7,140.1L71.1,139.2L71.5,138.3L71.9,137.4L72.3,136.6L72.7,135.8L73.1,135.1L73.5,134.5L74.2,133.5L74.9,132.7L75.7,132.0L76.5,131.7L77.3,131.8L78.2,132.1L79.1,132.7L80.0,133.4L80.5,133.9L81.1,134.5L81.6,135.3L82.1,136.1L82.6,136.9L83.1,137.7L83.6,138.6L84.1,139.4L84.6,140.3L85.0,141.0L85.5,141.8L85.9,142.6L86.3,143.4L86.7,144.2L87.1,144.9L87.6,145.7L88.0,146.6L88.4,147.2L88.8,148.0L89.2,148.7L89.6,149.4L90.0,150.2L90.4,150.9L90.8,151.7L91.2,152.5L91.6,153.2L92.0,153.9L92.4,154.7L92.8,155.4L93.2,156.2L93.6,156.9L94.0,157.7L94.4,158.4L94.8,159.1L95.2,159.9L95.6,160.6L96.0,161.3L96.4,162.1L96.9,162.9L97.3,163.7L97.8,164.5L98.2,165.3L98.7,166.1L99.1,166.8L99.5,167.6L100.0,168.4L100.4,169.1L100.9,169.8L101.3,170.6L101.8,171.3L102.2,172.0L102.7,172.7L103.1,173.4L103.5,174.1L104.0,174.8L104.5,175.6L105.0,176.3L105.5,177.1L106.0,177.8L106.5,178.5L107.0,179.3L107.5,180.0L108.0,180.7L108.6,181.5L109.1,182.3L109.7,183.0L110.3,183.8L110.8,184.5L111.4,185.3L112.0,186.0L112.6,186.7L113.1,187.4L113.7,188.1L114.3,188.8L114.8,189.5L115.4,190.2L116.0,190.8L116.6,191.5L117.1,192.1L117.7,192.7L118.3,193.4L118.8,194.0L119.4,194.6L120.0,195.2L120.7,195.9L121.3,196.5L122.0,197.2L122.7,197.8L123.3,198.5L124.0,199.1L124.7,199.7L125.3,200.4L126.0,201.0L126.7,201.6L127.3,202.1L128.0,202.7L128.7,203.3L129.3,203.8L130.0,204.4L130.7,204.9L131.3,205.5L132.0,206.0L132.7,206.5L133.3,207.0L134.0,207.5L134.7,208.0L135.3,208.5L136.0,209.0L136.8,209.6L137.6,210.1L138.4,210.7L139.2,211.2L140.0,211.8L140.8,212.3L141.6,212.8L142.4,213.3L143.2,213.8L144.0,214.3L144.8,214.8L145.6,215.3L146.4,215.8L147.2,216.2L148.0,216.7L148.8,217.1L149.6,217.6L150.4,218.0L151.2,218.5L152.0,218.9L152.8,219.3L153.6,219.7L154.4,220.1L155.2,220.5L156.0,220.9L156.8,221.3L157.6,221.7L158.4,222.1L159.2,222.5L160.0,222.9L160.8,223.3L161.6,223.7L162.4,224.0L163.2,224.4L164.0,224.8L164.8,225.1L165.6,225.5L166.4,225.9L167.2,226.2L168.0,226.6L168.8,226.9L169.6,227.3L170.4,227.6L171.2,228.0L172.0,228.3L172.8,228.6L173.6,229.0L174.4,229.3L175.2,229.6L176.0,229.9L176.8,230.3L177.6,230.6L178.4,230.9L179.2,231.2L180.0,231.5L180.8,231.8L181.6,232.1L182.4,232.4L183.2,232.7L184.0,233.0L184.8,233.3L185.6,233.6L186.4,233.9L187.2,234.2L188.0,234.4L188.8,234.7L189.6,235.0L190.4,235.3L191.2,235.6L192.0,235.8L192.8,236.1L193.6,236.4L194.4,236.6L195.2,236.9L196.0,237.2L196.8,237.4L197.6,237.7L198.4,237.9L199.2,238.2L200.0,238.4L200.8,238.7L201.6,238.9L202.4,239.1L203.2,239.4L204.0,239.6L205.0,239.9L206.0,240.2L207.0,240.5L208.0,240.8L209.0,241.0L210.0,241.3L211.0,241.6L212.0,241.9L213.0,242.1L214.0,242.4L215.0,242.7L216.0,242.9L217.0,243.2L218.0,243.4L219.0,243.7L220.0,243.9L221.0,244.2L222.0,244.4L223.0,244.7L224.0,244.9L225.0,245.1L226.0,245.4L227.0,245.6L228.0,245.8L229.0,246.1L230.0,246.3L231.0,246.5L232.0,246.7L233.0,246.9L234.0,247.2L235.0,247.4L236.0,247.6L237.0,247.8L238.0,248.0L239.0,248.2L240.0,248.4L241.0,248.6L242.0,248.8L243.0,249.0L244.0,249.2L245.0,249.4L246.0,249.6L247.0,249.8L248.0,250.0L249.0,250.2L250.0,250.4L251.0,250.5L252.0,250.7L253.0,250.9L254.0,251.1L255.0,251.3L256.0,251.4L257.0,251.6L258.0,251.8L259.0,252.0L260.0,252.1L261.0,252.3L262.0,252.5L263.0,252.7L264.0,252.8L265.0,253.0L266.0,253.2L267.0,253.3L268.0,253.5L269.0,253.6L270.0,253.8L271.0,254.0L272.0,254.1L273.0,254.3L274.0,254.4L275.0,254.6L276.0,254.7L277.0,254.9L278.0,255.0L279.0,255.2L280.0,255.3L281.0,255.5L282.0,255.6L283.0,255.7L284.0,255.9L285.0,256.0L286.0,256.2L287.0,256.3L288.0,256.4L289.0,256.6L290.0,256.7L291.0,256.8L292.0,257.0L293.0,257.1L294.0,257.2L295.0,257.4L296.0,257.5L297.0,257.6L298.0,257.7L299.0,257.9L300.0,258.0L301.0,258.1L302.0,258.2L303.0,258.4L304.0,258.5L305.0,258.6L306.0,258.7L307.0,258.8L308.0,258.9L309.0,259.1L310.0,259.2L311.0,259.3L312.0,259.4L313.0,259.5L314.0,259.6L315.0,259.7L316.0,259.8L317.0,259.9L318.0,260.0L319.0,260.1L320.0,260.2L321.0,260.3L322.0,260.4L323.0,260.5L324.0,260.6L325.0,260.7L326.0,260.8L327.0,260.9L328.0,261.0L329.0,261.1L330.0,261.2L331.0,261.3L332.0,261.4L333.0,261.5L334.0,261.5L335.0,261.6L336.0,261.7L337.0,261.8L338.0,261.9L339.0,262.0L340.0,262.1L341.0,262.1L342.0,262.2L343.0,262.3L344.0,262.4L345.0,262.5L346.0,262.5L347.0,262.6L348.0,262.7L349.0,262.8L350.0,262.8L351.0,262.9L352.0,263.0L353.0,263.1L354.0,263.1L355.0,263.2L356.0,263.3L357.0,263.3L358.0,263.4L359.0,263.5L360.0,263.5" stroke="#ff00ff"/>
<path d="M40.0,243.0L40.2,242.2L40.5,241.4L40.7,240.6L40.9,239.8L41.2,239.0L41.4,238.2L41.6,237.4L41.9,236.6L42.1,235.8L42.4,235.0L42.6,234.1L42.8,233.3L43.1,232.5L43.3,231.7L43.5,230.9L43.8,230.1L44.0,229.3L44.2,228.5L44.5,227.7L44.7,226.9L44.9,226.1L45.1,225.3L45.4,224.5L45.6,223.6L45.8,222.8L46.0,222.0L46.2,221.2L46.4,220.4L46.6,219.6L46.8,218.8L47.0,218.0L47.2,217.1L47.4,216.3L47.6,215.5L47.8,214.7L47.9,213.9L48.1,213.0L48.3,212.2L48.5,211.4L48.7,210.6L48.9,209.7L49.0,208.9L49.2,208.1L49.4,207.3L49.6,206.5L49.8,205.6L49.9,204.8L50.1,204.0L50.3,203.2L50.5,202.4L50.6,201.6L50.8,200.8L51.0,200.0L51.2,199.1L51.4,198.3L51.6,197.4L51.7,196.5L51.9,195.6L52.1,194.8L52.3,193.9L52.4,193.0L52.6,192.1L52.8,191.2L53.0,190.4L53.1,189.5L53.3,188.6L53.5,187.8L53.7,186.9L53.8,186.1L54.0,185.3L54.2,184.5L54.4,183.7L54.6,182.9L54.8,182.1L55.0,181.4L55.3,180.7L55.5,180.0L55.8,179.1L56.2,178.3L56.5,177.5L56.9,176.7L57.3,176.0L57.6,175.3L58.0,174.6L58.4,173.9L58.8,173.2L59.2,172.5L59.5,171.7L59.9,170.9L60.2,170.0L60.4,169.3L60.7,168.6L60.9,167.8L61.2,167.0L61.4,166.2L61.6,165.4L61.8,164.6L62.1,163.8L62.3,162.9L62.5,162.1L62.7,161.2L62.9,160.3L63.1,159.5L63.3,158.6L63.5,157.8L63.8,156.9L64.0,156.0L64.2,155.2L64.4,154.4L64.6,153.6L64.8,152.8L65.0,152.0L65.2,151.1L65.5,150.2L65.7,149.4L65.9,148.5L66.2,147.6L66.4,146.8L66.6,145.9L66.9,145.1L67.1,144.2L67.3,143.4L67.6,142.6L67.8,141.8L68.0,141.0L68.3,140.2L68.5,139.5L68.8,138.7L69.0,138.0L69.3,137.1L69.6,136.3L69.9,135.4L70.2,134.6L70.4,133.7L70.7,133.0L71.1,132.2L71.4,131.5L71.7,130.8L72.1,130.1L72.5,129.5L73.1,128.6L73.8,127.8L74.6,127.0L75.3,126.3L76.1,125.9L76.8,125.7L77.5,125.8L78.2,126.2L78.9,126.8L79.6,127.5L80.3,128.3L81.0,129.0L81.5,129.6L82.1,130.2L82.6,130.9L83.1,131.6L83.6,132.3L84.1,133.1L84.5,133.8L85.0,134.5L85.5,135.2L85.9,136.0L86.3,136.7L86.7,137.5L87.1,138.2L87.6,139.0L88.0,139.8L88.4,140.5L88.8,141.2L89.2,141.9L89.6,142.7L90.0,143.4L90.4,144.2L90.8,144.9L91.2,145.7L91.6,146.4L92.0,147.2L92.4,147.9L92.8,148.7L93.2,149.5L93.6,150.2L94.0,151.0L94.4,151.8L94.8,152.5L95.2,153.3L95.6,154.0L96.0,154.8L96.4,155.6L96.8,156.3L97.2,157.1L97.6,157.8L98.0,158.6L98.4,159.4L98.8,160.1L99.2,160.9L99.6,161.6L100.0,162.4L100.4,163.2L100.9,164.0L101.3,164.8L101.8,165.6L102.2,166.3L102.7,167.1L103.1,167.9L103.5,168.7L104.0,169.4L104.5,170.3L105.0,171.1L105.5,171.9L106.0,172.7L106.5,173.5L107.0,174.2L107.5,175.0L108.0,175.8L108.5,176.5L109.0,177.2L109.5,177.9L110.0,178.6L110.5,179.3L111.0,180.0L111.5,180.7L112.0,181.3L112.6,182.0L113.1,182.8L113.7,183.5L114.3,184.2L114.8,184.9L115.4,185.5L116.0,186.2L116.6,186.9L117.1,187.5L117.7,188.1L118.3,188.7L118.8,189.4L119.4,190.0L120.0,190.6L120.7,191.2L121.3,191.9L122.0,192.5L122.7,193.2L123.3,193.8L124.0,194.5L124.7,195.1L125.3,195.7L126.0,196.3L126.7,196.9L127.3,197.4L128.0,198.0L128.7,198.6L129.3,199.1L130.0,199.7L130.7,200.3L131.3,200.8L132.0,201.3L132.7,201.9L133.3,202.4L134.0,202.9L134.7,203.5L135.3,204.0L136.0,204.5L136.8,205.1L137.6,205.7L138.4,206.3L139.2,206.9L140.0,207.5L140.8,208.0L141.6,208.6L142.4,209.2L143.2,209.7L144.0,210.3L144.8,210.8L145.6,211.3L146.4,211.9L147.2,212.4L148.0,212.9L148.8,213.4L149.6,213.9L150.4,214.4L151.2,214.9L152.0,215.4L152.8,215.9L153.6,216.4L154.4,216.9L155.2,217.3L156.0,217.8L156.8,218.2L157.6,218.7L158.4,219.1L159.2,219.6L160.0,220.0L160.8,220.4L161.6,220.8L162.4,221.3L163.2,221.7L164.0,222.1L164.8,222.5L165.6,222.9L166.4,223.3L167.2,223.6L168.0,224.0L168.8,224.4L169.6,224.8L170.4,225.1L171.2,225.5L172.0,225.9L172.8,226.2L173.6,226.6L174.4,226.9L175.2,227.2L176.0,227.6L176.8,227.9L177.6,228.2L178.4,228.6L179.2,228.9L180.0,229.2L180.8,229.5L181.6,229.8L182.4,230.1L183.2,230.4L184.0,230.7L184.8,231.0L185.6,231.3L186.4,231.5L187.2,231.8L188.0,232.1L188.8,232.4L189.6,232.6L190.4,232.9L191.2,233.2L192.0,233.4L192.8,233.7L193.6,233.9L194.4,234.2L195.2,234.4L196.0,234.7L197.0,234.9L198.0,235.2L199.0,235.5L200.0,235.8L201.0,236.1L202.0,236.3L203.0,236.6L204.0,236.9L205.0,237.1L206.0,237.4L207.0,237.6L208.0,237.9L209.0,238.1L210.0,238.4L211.0,238.6L212.0,238.8L213.0,239.1L214.0,239.3L215.0,239.5L216.0,239.7L217.0,239.9L218.0,240.2L219.0,240.4L220.0,240.6L221.0,240.8L222.0,241.0L223.0,241.2L224.0,241.4L225.0,241.6L226.0,241.8L227.0,242.0L228.0,242.2L229.0,242.3L230.0,242.5L231.0,242.7L232.0,242.9L233.0,243.1L234.0,243.3L235.0,243.4L236.0,243.6L237.0,243.8L238.0,244.0L239.0,244.1L240.0,244.3L241.0,244.5L242.0,244.6L243.0,244.8L244.0,245.0L245.0,245.2L246.0,245.3L247.0,245.5L248.0,245.7L249.0,245.8L250.0,246.0L251.0,246.2L252.0,246.3L253.0,246.5L254.0,246.7L255.0,246.9L256.0,247.0L257.0,247.2L258.0,247.4L259.0,247.5L260.0,247.7L261.0,247.9L262.0,248.0L263.0,248.2L264.0,248.4L265.0,248.5L266.0,248.7L267.0,248.9L268.0,249.1L269.0,249.2L270.0,249.4L271.0,249.6L272.0,249.7L273.0,249.9L274.0,250.1L275.0,250.2L276.0,250.4L277.0,250.6L278.0,250.7L279.0,250.9L280.0,251.1L281.0,251.2L282.0,251.4L283.0,251.5L284.0,251.7L285.0,251.9L286.0,252.0L287.0,252.2L288.0,252.3L289.0,252.5L290.0,252.6L291.0,252.8L292.0,252.9L293.0,253.1L294.0,253.3L295.0,253.4L296.0,253.6L297.0,253.7L298.0,253.9L299.0,254.0L300.0,254.2L301.0,254.3L302.0,254.4L303.0,254.6L304.0,254.7L305.0,254.9L306.0,255.0L307.0,255.1L308.0,255.3L309.0,255.4L310.0,255.5L311.0,255.7L312.0,255.8L313.0,255.9L314.0,256.1L315.0,256.2L316.0,256.3L317.0,256.4L318.0,256.6L319.0,256.7L320.0,256.8L321.0,256.9L322.0,257.0L323.0,257.2L324.0,257.3L325.0,257.4L326.0,257.5L327.0,257.6L328.0,257.7L329.0,257.8L330.0,257.9L331.0,258.0L332.0,258.1L333.0,258.2L334.0,258.3L335.0,258.4L336.0,258.5L337.0,258.6L338.0,258.6L339.0,258.7L340.0,258.8L341.0,258.9L342.0,259.0L343.0,259.0L344.0,259.1L345.0,259.2L346.0,259.2L347.0,259.3L348.0,259.4L349.0,259.4L350.0,259.5L351.0,259.5L352.0,259.6L353.0,259.6L354.0,259.7L355.0,259.7L356.0,259.8L357.0,259.8L358.0,259.9L359.0,259.9L360.0,259.9" stroke="#808000"/>
<path d="M40.0,233.0L40.2,232.2L40.5,231.4L40.7,230.5L40.9,229.7L41.1,228.9L41.3,228.0L41.6,227.2L41.8,226.4L42.0,225.5L42.2,224.7L42.4,223.9L42.7,223.0L42.9,222.2L43.1,221.4L43.3,220.6L43.6,219.7L43.8,218.9L44.0,218.1L44.2,217.3L44.5,216.4L44.7,215.6L44.9,214.8L45.2,214.0L45.4,213.2L45.7,212.4L45.9,211.6L46.1,210.8L46.4,210.0L46.7,209.2L47.0,208.3L47.2,207.5L47.5,206.7L47.8,205.9L48.1,205.1L48.4,204.3L48.7,203.5L49.1,202.7L49.4,201.9L49.7,201.1L50.0,200.3L50.3,199.5L50.6,198.7L50.9,197.9L51.2,197.2L51.6,196.4L51.9,195.6L52.2,194.8L52.4,194.0L52.7,193.2L53.0,192.4L53.3,191.6L53.5,190.8L53.8,190.0L54.1,189.2L54.3,188.3L54.5,187.5L54.8,186.7L55.0,185.8L55.2,185.0L55.5,184.2L55.7,183.3L55.9,182.5L56.1,181.6L56.3,180.8L56.5,180.0L56.7,179.1L56.9,178.3L57.1,177.4L57.3,176.6L57.5,175.8L57.7,174.9L57.9,174.1L58.1,173.3L58.3,172.5L58.5,171.6L58.7,170.8L58.9,170.0L59.1,169.2L59.3,168.3L59.5,167.5L59.7,166.6L59.9,165.8L60.1,165.0L60.3,164.1L60.4,163.3L60.6,162.5L60.8,161.6L61.0,160.8L61.2,160.0L61.4,159.2L61.5,158.3L61.7,157.5L61.9,156.7L62.1,155.9L62.3,155.1L62.5,154.3L62.6,153.5L62.8,152.8L63.0,152.0L63.2,151.1L63.4,150.3L63.6,149.4L63.8,148.5L64.0,147.7L64.2,146.8L64.4,146.0L64.7,145.2L64.9,144.3L65.1,143.5L65.3,142.7L65.5,141.9L65.7,141.1L65.9,140.3L66.1,139.5L66.3,138.8L66.5,138.0L66.7,137.1L67.0,136.2L67.2,135.3L67.5,134.4L67.7,133.6L68.0,132.7L68.2,131.9L68.4,131.1L68.7,130.3L69.0,129.5L69.2,128.7L69.5,128.0L69.8,127.1L70.2,126.2L70.5,125.3L70.9,124.4L71.2,123.6L71.6,122.9L72.0,122.1L72.5,121.5L73.2,120.7L73.9,119.9L74.6,119.3L75.4,118.8L76.2,118.6L76.9,118.6L77.7,118.9L78.5,119.3L79.3,119.9L80.0,120.5L80.5,121.0L81.1,121.7L81.6,122.4L82.1,123.1L82.6,124.0L83.1,124.8L83.6,125.7L84.1,126.5L84.6,127.3L85.0,128.0L85.5,128.8L85.9,129.6L86.3,130.3L86.7,131.1L87.1,131.8L87.6,132.6L88.0,133.4L88.4,134.1L88.8,134.8L89.2,135.5L89.6,136.2L90.0,137.0L90.4,137.7L90.8,138.5L91.2,139.2L91.6,140.0L92.0,140.7L92.4,141.5L92.8,142.2L93.2,143.0L93.6,143.8L94.0,144.5L94.4,145.3L94.8,146.0L95.2,146.8L95.6,147.6L96.0,148.3L96.4,149.1L96.8,149.8L97.2,150.6L97.6,151.3L98.0,152.1L98.4,152.8L98.8,153.6L99.2,154.3L99.6,155.1L100.0,155.8L100.4,156.7L100.9,157.5L101.3,158.3L101.8,159.1L102.2,159.9L102.7,160.7L103.1,161.5L103.5,162.3L104.0,163.1L104.4,163.8L104.9,164.6L105.3,165.3L105.8,166.1L106.2,166.8L106.6,167.5L107.1,168.3L107.5,169.0L108.0,169.7L108.5,170.5L109.0,171.2L109.5,172.0L110.0,172.7L110.5,173.4L111.0,174.1L111.5,174.9L112.0,175.6L112.6,176.3L113.1,177.1L113.7,177.8L114.3,178.6L114.8,179.3L115.4,180.0L116.0,180.7L116.6,181.4L117.1,182.0L117.7,182.7L118.3,183.3L118.8,184.0L119.4,184.6L120.0,185.2L120.7,185.9L121.3,186.6L122.0,187.2L122.7,187.9L123.3,188.5L124.0,189.1L124.7,189.7L125.3,190.3L126.0,190.9L126.7,191.5L127.3,192.1L128.0,192.6L128.7,193.1L129.3,193.7L130.0,194.2L130.7,194.7L131.3,195.2L132.0,195.7L132.8,196.3L133.6,196.8L134.4,197.4L135.2,198.0L136.0,198.5L136.8,199.0L137.6,199.6L138.4,200.1L139.2,200.6L140.0,201.1L140.8,201.6L141.6,202.1L142.4,202.6L143.2,203.1L144.0,203.6L144.8,204.1L145.6,204.6L146.4,205.0L147.2,205.5L148.0,206.0L148.8,206.5L149.6,206.9L150.4,207.4L151.2,207.8L152.0,208.3L152.8,208.7L153.6,209.2L154.4,209.6L155.2,210.0L156.0,210.4L156.8,210.9L157.6,211.3L158.4,211.7L159.2,212.1L160.0,212.5L160.8,212.9L161.6,213.3L162.4,213.7L163.2,214.1L164.0,214.5L164.8,214.9L165.6,215.3L166.4,215.7L167.2,216.1L168.0,216.4L168.8,216.8L169.6,217.2L170.4,217.5L171.2,217.9L172.0,218.2L172.8,218.6L173.6,218.9L174.4,219.3L175.2,219.6L176.0,220.0L176.8,220.3L177.6,220.6L178.4,221.0L179.2,221.3L180.0,221.6L180.8,221.9L181.6,222.2L182.4,222.5L183.2,222.9L184.0,223.2L184.8,223.5L185.6,223.8L186.4,224.1L187.2,224.4L188.0,224.6L188.8,224.9L189.6,225.2L190.4,225.5L191.2,225.8L192.0,226.0L192.8,226.3L193.6,226.6L194.4,226.8L195.2,227.1L196.0,227.4L196.8,227.6L197.6,227.9L198.4,228.1L199.2,228.4L200.0,228.6L200.8,228.9L201.6,229.1L202.4,229.4L203.2,229.6L204.0,229.8L205.0,230.1L206.0,230.4L207.0,230.7L208.0,230.9L209.0,231.2L210.0,231.5L211.0,231.7L212.0,232.0L213.0,232.3L214.0,232.5L215.0,232.7L216.0,233.0L217.0,233.2L218.0,233.5L219.0,233.7L220.0,233.9L221.0,234.2L222.0,234.4L223.0,234.6L224.0,234.8L225.0,235.0L226.0,235.2L227.0,235.4L228.0,235.6L229.0,235.8L230.0,236.0L231.0,236.2L232.0,236.4L233.0,236.6L234.0,236.8L235.0,237.0L236.0,237.1L237.0,237.3L238.0,237.5L239.0,237.7L240.0,237.8L241.0,238.0L242.0,238.1L243.0,238.3L244.0,238.5L245.0,238.6L246.0,238.8L247.0,238.9L248.0,239.1L249.0,239.2L250.0,239.3L251.0,239.5L252.0,239.6L253.0,239.7L254.0,239.9L255.0,240.0L256.0,240.1L257.0,240.3L258.0,240.4L259.0,240.5L260.0,240.6L261.0,240.7L262.0,240.9L263.0,241.0L264.0,241.1L265.0,241.2L266.0,241.3L267.0,241.4L268.0,241.5L269.0,241.6L270.0,241.7L271.0,241.8L272.0,241.9L273.0,242.0L274.0,242.1L275.0,242.2L276.0,242.3L277.0,242.4L278.0,242.5L279.0,242.6L280.0,242.6L281.0,242.7L282.0,242.8L283.0,242.9L284.0,243.0L285.0,243.1L286.0,243.1L287.0,243.2L288.0,243.3L289.0,243.4L290.0,243.5L291.0,243.5L292.0,243.6L293.0,243.7L294.0,243.8L295.0,243.8L296.0,243.9L297.0,244.0L298.0,244.1L299.0,244.1L300.0,244.2L301.0,244.3L302.0,244.3L303.0,244.4L304.0,244.5L305.0,244.6L306.0,244.6L307.0,244.7L308.0,244.8L309.0,244.8L310.0,244.9L311.0,245.0L312.0,245.0L313.0,245.1L314.0,245.2L315.0,245.3L316.0,245.3L317.0,245.4L318.0,245.5L319.0,245.5L320.0,245.6L321.0,245.7L322.0,245.8L323.0,245.8L324.0,245.9L325.0,246.0L326.0,246.1L327.0,246.1L328.0,246.2L329.0,246.3L330.0,246.4L331.0,246.4L332.0,246.5L333.0,246.6L334.0,246.7L335.0,246.8L336.0,246.8L337.0,246.9L338.0,247.0L339.0,247.1L340.0,247.2L341.0,247.3L342.0,247.4L343.0,247.5L344.0,247.6L345.0,247.6L346.0,247.7L347.0,247.8L348.0,247.9L349.0,248.0L350.0,248.1L351.0,248.2L352.0,248.3L353.0,248.5L354.0,248.6L355.0,248.7L356.0,248.8L357.0,248.9L358.0,249.0L359.0,249.1L360.0,249.2" stroke="#000080"/>
<path d="M40.0,238.0L40.2,237.2L40.4,236.4L40.6,235.5L40.9,234.7L41.1,233.9L41.3,233.0L41.5,232.2L41.7,231.3L41.9,230.5L42.2,229.7L42.4,228.8L42.6,228.0L42.8,227.2L43.0,226.3L43.2,225.5L43.4,224.7L43.6,223.9L43.8,223.1L44.0,222.3L44.2,221.5L44.4,220.8L44.6,220.0L44.8,219.1L45.0,218.2L45.2,217.3L45.4,216.4L45.6,215.6L45.8,214.7L46.0,213.9L46.2,213.1L46.4,212.2L46.6,211.4L46.8,210.5L46.9,209.7L47.1,208.8L47.3,207.9L47.5,207.0L47.7,206.2L47.8,205.4L48.0,204.6L48.1,203.8L48.3,202.9L48.4,202.1L48.6,201.3L48.7,200.4L48.9,199.6L49.0,198.7L49.2,197.9L49.3,197.0L49.5,196.1L49.6,195.3L49.8,194.4L50.0,193.5L50.1,192.6L50.3,191.8L50.4,190.9L50.6,190.0L50.8,189.2L50.9,188.4L51.1,187.6L51.2,186.7L51.4,185.9L51.5,185.0L51.7,184.2L51.9,183.3L52.0,182.5L52.2,181.6L52.3,180.8L52.5,179.9L52.7,179.1L52.8,178.2L53.0,177.4L53.2,176.5L53.3,175.7L53.5,174.8L53.7,174.0L53.8,173.2L54.0,172.4L54.2,171.6L54.3,170.8L54.5,170.0L54.7,169.1L54.9,168.2L55.1,167.4L55.3,166.5L55.5,165.7L55.7,164.8L55.9,164.0L56.1,163.2L56.3,162.4L56.5,161.5L56.7,160.7L56.9,159.9L57.0,159.1L57.2,158.3L57.4,157.5L57.6,156.7L57.8,155.8L58.0,155.0L58.2,154.2L58.4,153.3L58.5,152.5L58.7,151.6L58.9,150.7L59.1,149.9L59.2,149.0L59.4,148.2L59.6,147.3L59.7,146.4L59.9,145.6L60.1,144.8L60.3,143.9L60.4,143.1L60.6,142.3L60.8,141.5L61.0,140.8L61.2,140.0L61.5,139.1L61.7,138.2L62.0,137.3L62.3,136.5L62.6,135.7L62.9,134.9L63.2,134.1L63.5,133.3L63.7,132.5L64.0,131.6L64.3,130.8L64.5,130.0L64.7,129.2L64.9,128.3L65.1,127.5L65.3,126.7L65.5,125.8L65.6,125.0L65.8,124.2L66.0,123.3L66.1,122.5L66.3,121.7L66.6,120.8L66.8,120.0L67.1,119.1L67.3,118.3L67.6,117.3L67.8,116.4L68.1,115.5L68.4,114.6L68.7,113.7L69.0,112.9L69.4,112.1L69.8,111.3L70.2,110.6L70.6,110.0L71.2,109.2L71.9,108.5L72.6,107.8L73.4,107.2L74.1,106.7L74.9,106.4L75.6,106.3L76.3,106.4L77.1,106.7L77.9,107.2L78.7,107.8L79.4,108.5L80.1,109.2L80.8,110.0L81.2,110.6L81.7,111.2L82.1,111.9L82.4,112.6L82.8,113.4L83.2,114.2L83.5,115.1L83.8,115.9L84.2,116.7L84.5,117.6L84.9,118.4L85.2,119.2L85.6,120.0L86.0,120.8L86.4,121.5L86.8,122.3L87.2,123.1L87.6,123.9L88.0,124.6L88.4,125.4L88.8,126.2L89.2,126.9L89.6,127.7L90.0,128.5L90.4,129.2L90.8,130.0L91.2,130.8L91.6,131.6L92.0,132.4L92.4,133.2L92.8,134.0L93.2,134.8L93.6,135.6L94.0,136.4L94.4,137.1L94.7,137.9L95.1,138.6L95.5,139.3L95.8,140.0L96.3,140.9L96.7,141.7L97.1,142.5L97.5,143.2L97.9,144.0L98.3,144.8L98.8,145.6L99.2,146.3L99.6,147.0L100.1,147.8L100.5,148.5L101.0,149.3L101.4,150.1L101.9,150.8L102.3,151.6L102.8,152.3L103.3,153.1L103.8,153.9L104.3,154.6L104.8,155.4L105.3,156.1L105.8,156.9L106.3,157.6L106.8,158.4L107.3,159.1L107.8,159.8L108.3,160.5L108.8,161.2L109.3,161.9L109.8,162.6L110.3,163.2L110.8,163.9L111.4,164.7L111.9,165.4L112.5,166.1L113.1,166.8L113.6,167.5L114.2,168.2L114.8,168.9L115.4,169.6L115.9,170.2L116.5,170.9L117.1,171.5L117.6,172.2L118.2,172.8L118.8,173.4L119.5,174.2L120.1,174.9L120.8,175.5L121.5,176.2L122.1,176.9L122.8,177.6L123.5,178.2L124.1,178.8L124.8,179.5L125.5,180.1L126.1,180.7L126.8,181.3L127.5,181.9L128.1,182.5L128.8,183.0L129.5,183.6L130.1,184.2L130.8,184.7L131.5,185.2L132.1,185.8L132.8,186.3L133.5,186.8L134.1,187.3L134.8,187.9L135.6,188.5L136.4,189.0L137.2,189.6L138.0,190.2L138.8,190.8L139.6,191.3L140.4,191.9L141.2,192.5L142.0,193.0L142.8,193.5L143.6,194.1L144.4,194.6L145.2,195.1L146.0,195.6L146.8,196.1L147.6,196.6L148.4,197.1L149.2,197.6L150.0,198.1L150.8,198.6L151.6,199.1L152.4,199.5L153.2,200.0L154.0,200.5L154.8,200.9L155.6,201.4L156.4,201.8L157.2,202.2L158.0,202.7L158.8,203.1L159.6,203.5L160.4,203.9L161.2,204.3L162.0,204.7L162.8,205.1L163.6,205.5L164.4,205.9L165.2,206.3L166.0,206.7L166.8,207.1L167.6,207.5L168.4,207.8L169.2,208.2L170.0,208.5L170.8,208.9L171.6,209.2L172.4,209.6L173.2,209.9L174.0,210.3L174.8,210.6L175.6,210.9L176.4,211.3L177.2,211.6L178.0,211.9L178.8,212.2L179.6,212.5L180.4,212.8L181.2,213.1L182.0,213.4L182.8,213.7L183.6,214.0L184.4,214.3L185.2,214.6L186.0,214.8L186.8,215.1L187.6,215.4L188.4,215.7L189.2,215.9L190.0,216.2L190.8,216.4L191.6,216.7L192.4,216.9L193.2,217.2L194.0,217.4L194.8,217.7L195.8,218.0L196.8,218.3L197.8,218.6L198.8,218.8L199.8,219.1L200.8,219.4L201.8,219.7L202.8,219.9L203.8,220.2L204.8,220.4L205.8,220.7L206.8,220.9L207.8,221.2L208.8,221.4L209.8,221.7L210.8,221.9L211.8,222.1L212.8,222.4L213.8,222.6L214.8,222.8L215.8,223.0L216.8,223.3L217.8,223.5L218.8,223.7L219.8,223.9L220.8,224.1L221.8,224.3L222.8,224.5L223.8,224.7L224.8,224.9L225.8,225.1L226.8,225.3L227.8,225.5L228.8,225.7L229.8,225.8L230.8,226.0L231.8,226.2L232.8,226.4L233.8,226.6L234.8,226.8L235.8,226.9L236.8,227.1L237.8,227.3L238.8,227.5L239.8,227.6L240.8,227.8L241.8,228.0L242.8,228.2L243.8,228.3L244.8,228.5L245.8,228.7L246.8,228.8L247.8,229.0L248.8,229.2L249.8,229.3L250.8,229.5L251.8,229.7L252.8,229.8L253.8,230.0L254.8,230.2L255.8,230.3L256.8,230.5L257.8,230.7L258.8,230.9L259.8,231.0L260.8,231.2L261.8,231.4L262.8,231.5L263.8,231.7L264.8,231.9L265.8,232.0L266.8,232.2L267.8,232.4L268.8,232.5L269.8,232.7L270.8,232.9L271.8,233.0L272.8,233.2L273.8,233.4L274.8,233.5L275.8,233.7L276.8,233.9L277.8,234.0L278.8,234.2L279.8,234.4L280.8,234.5L281.8,234.7L282.8,234.8L283.8,235.0L284.8,235.2L285.8,235.3L286.8,235.5L287.8,235.6L288.8,235.8L289.8,235.9L290.8,236.1L291.8,236.3L292.8,236.4L293.8,236.6L294.8,236.7L295.8,236.9L296.8,237.0L297.8,237.2L298.8,237.3L299.8,237.4L300.8,237.6L301.8,237.7L302.8,237.9L303.8,238.0L304.8,238.2L305.8,238.3L306.8,238.4L307.8,238.6L308.8,238.7L309.8,238.9L310.8,239.0L311.8,239.1L312.8,239.3L313.8,239.4L314.8,239.5L315.8,239.6L316.8,239.8L317.8,239.9L318.8,240.0L319.8,240.1L320.8,240.2L321.8,240.4L322.8,240.5L323.8,240.6L324.8,240.7L325.8,240.8L326.8,240.9L327.8,241.0L328.8,241.1L329.8,241.3L330.8,241.4L331.8,241.5L332.8,241.6L333.8,241.7L334.8,241.8L335.8,241.9L336.8,241.9L337.8,242.0L338.8,242.1L339.8,242.2L340.8,242.3L341.8,242.4L342.8,242.5L343.8,242.5L344.8,242.6L345.8,242.7L346.8,242.8L347.8,242.8L348.8,242.9L349.8,243.0L350.8,243.0L351.8,243.1L352.8,243.2L353.8,243.2L354.8,243.3L355.9,243.3L356.9,243.4L358.0,243.4L358.8,243.5L359.4,243.5L360.0,243.5" stroke="#800000"/>
</g>
<rect x="40.1" y="42.1" width="320.5" height="270.7" fill="none" stroke="#000" stroke-width="2" stroke-linejoin="round"/>
<path d="M40.10,312.8V319.3M66.81,312.8V316.8M93.52,312.8V319.3M120.22,312.8V316.8M146.93,312.8V319.3M173.64,312.8V316.8M200.35,312.8V319.3M227.06,312.8V316.8M253.77,312.8V319.3M280.48,312.8V316.8M307.18,312.8V319.3M333.89,312.8V316.8M360.60,312.8V319.3" stroke="#000" stroke-width="2"/>
<text x="39.20" y="331.60" text-anchor="middle" style="font-size:14.50px;fill:#111">200</text>
<text x="92.62" y="331.60" text-anchor="middle" style="font-size:14.50px;fill:#111">300</text>
<text x="146.03" y="331.60" text-anchor="middle" style="font-size:14.50px;fill:#111">400</text>
<text x="199.45" y="331.60" text-anchor="middle" style="font-size:14.50px;fill:#111">500</text>
<text x="252.87" y="331.60" text-anchor="middle" style="font-size:14.50px;fill:#111">600</text>
<text x="306.28" y="331.60" text-anchor="middle" style="font-size:14.50px;fill:#111">700</text>
<text x="359.70" y="331.60" text-anchor="middle" style="font-size:14.50px;fill:#111">800</text>
<text x="188.60" y="358.50" text-anchor="middle" textLength="121.46" lengthAdjust="spacing" style="font-size:16.00px;fill:#111">Wavelength (nm)</text>
<text transform="translate(23.40,184.90) rotate(-90)" text-anchor="middle" textLength="129.54" lengthAdjust="spacing" style="font-size:16.00px;fill:#111">Absorbance (a.u.)</text>
<text x="26.80" y="23.80" textLength="25.98" lengthAdjust="spacing" style="font-size:24.00px;fill:#111">(a)</text>
<line x1="221.8" y1="73.3" x2="249.8" y2="73.3" stroke="#000000" stroke-width="2.2"/>
<text transform="translate(252.50,77.70) scale(1,1.100)" style="font-size:13.00px;fill:#111">GO</text>
<line x1="221.6" y1="88.3" x2="249.6" y2="88.3" stroke="#ff0000" stroke-width="2.2"/>
<text transform="translate(252.26,92.75) scale(1,1.100)" style="font-size:13.00px;fill:#111">Al-rGO-3 nm</text>
<line x1="221.3" y1="103.4" x2="249.3" y2="103.4" stroke="#00ff00" stroke-width="2.2"/>
<text transform="translate(252.02,107.80) scale(1,1.100)" style="font-size:13.00px;fill:#111">Al-rGO-5 nm</text>
<line x1="221.1" y1="118.5" x2="249.1" y2="118.5" stroke="#0000ff" stroke-width="2.2"/>
<text transform="translate(251.78,122.85) scale(1,1.100)" style="font-size:13.00px;fill:#111">Al-rGO-8 nm</text>
<line x1="220.8" y1="133.5" x2="248.8" y2="133.5" stroke="#00ffff" stroke-width="2.2"/>
<text transform="translate(251.54,137.90) scale(1,1.100)" style="font-size:13.00px;fill:#111">Al-rGO-10 nm</text>
<line x1="220.6" y1="148.6" x2="248.6" y2="148.6" stroke="#ff00ff" stroke-width="2.2"/>
<text transform="translate(251.30,152.95) scale(1,1.100)" style="font-size:13.00px;fill:#111">Al-rGO-15 nm</text>
<line x1="220.4" y1="163.6" x2="248.4" y2="163.6" stroke="#808000" stroke-width="2.2"/>
<text transform="translate(251.06,168.00) scale(1,1.100)" style="font-size:13.00px;fill:#111">Al-rGO-20 nm</text>
<line x1="220.1" y1="178.7" x2="248.1" y2="178.7" stroke="#000080" stroke-width="2.2"/>
<text transform="translate(250.82,183.05) scale(1,1.100)" style="font-size:13.00px;fill:#111">Al-rGO-30 nm</text>
<line x1="219.9" y1="193.7" x2="247.9" y2="193.7" stroke="#800000" stroke-width="2.2"/>
<text transform="translate(250.58,198.10) scale(1,1.100)" style="font-size:13.00px;fill:#111">Al-rGO-40 nm</text>
<polyline points="448.00,305.84 470.39,238.24 485.31,109.80 507.70,89.52 522.62,76.00 559.94,55.72 597.25,55.72 671.88,55.72 746.50,55.72" fill="none" stroke="#0000ff" stroke-width="2.4" stroke-linejoin="round"/>
<polyline points="470.39,69.24 485.31,190.92 507.70,231.48 522.62,275.83 559.94,295.29 597.25,295.29 671.88,295.29 746.50,295.29" fill="none" stroke="#ff00ff" stroke-width="2.2" stroke-linejoin="round"/>
<ellipse cx="448.00" cy="305.84" rx="4.2" ry="3.8" fill="#fff"/>
<ellipse cx="448.00" cy="305.84" rx="3.3" ry="2.9" fill="#fff" stroke="#0000ff" stroke-width="0.9"/>
<ellipse cx="470.39" cy="238.24" rx="4.2" ry="3.8" fill="#fff"/>
<ellipse cx="470.39" cy="238.24" rx="3.3" ry="2.9" fill="#fff" stroke="#0000ff" stroke-width="0.9"/>
<ellipse cx="485.31" cy="109.80" rx="4.2" ry="3.8" fill="#fff"/>
<ellipse cx="485.31" cy="109.80" rx="3.3" ry="2.9" fill="#fff" stroke="#0000ff" stroke-width="0.9"/>
<ellipse cx="507.70" cy="89.52" rx="4.2" ry="3.8" fill="#fff"/>
<ellipse cx="507.70" cy="89.52" rx="3.3" ry="2.9" fill="#fff" stroke="#0000ff" stroke-width="0.9"/>
<ellipse cx="522.62" cy="76.00" rx="4.2" ry="3.8" fill="#fff"/>
<ellipse cx="522.62" cy="76.00" rx="3.3" ry="2.9" fill="#fff" stroke="#0000ff" stroke-width="0.9"/>
<ellipse cx="559.94" cy="55.72" rx="4.2" ry="3.8" fill="#fff"/>
<ellipse cx="559.94" cy="55.72" rx="3.3" ry="2.9" fill="#fff" stroke="#0000ff" stroke-width="0.9"/>
<ellipse cx="597.25" cy="55.72" rx="4.2" ry="3.8" fill="#fff"/>
<ellipse cx="597.25" cy="55.72" rx="3.3" ry="2.9" fill="#fff" stroke="#0000ff" stroke-width="0.9"/>
<ellipse cx="671.88" cy="55.72" rx="4.2" ry="3.8" fill="#fff"/>
<ellipse cx="671.88" cy="55.72" rx="3.3" ry="2.9" fill="#fff" stroke="#0000ff" stroke-width="0.9"/>
<ellipse cx="746.50" cy="55.72" rx="4.2" ry="3.8" fill="#fff"/>
<ellipse cx="746.50" cy="55.72" rx="3.3" ry="2.9" fill="#fff" stroke="#0000ff" stroke-width="0.9"/>
<polygon points="470.39,65.84 466.49,72.04 474.29,72.04" fill="#fff" stroke="#fff" stroke-width="2.2" stroke-linejoin="round"/>
<polygon points="470.39,65.84 466.49,72.04 474.29,72.04" fill="#fff" stroke="#ff00ff" stroke-width="0.85"/>
<polygon points="485.31,187.52 481.41,193.72 489.21,193.72" fill="#fff" stroke="#fff" stroke-width="2.2" stroke-linejoin="round"/>
<polygon points="485.31,187.52 481.41,193.72 489.21,193.72" fill="#fff" stroke="#ff00ff" stroke-width="0.85"/>
<polygon points="507.70,228.08 503.80,234.28 511.60,234.28" fill="#fff" stroke="#fff" stroke-width="2.2" stroke-linejoin="round"/>
<polygon points="507.70,228.08 503.80,234.28 511.60,234.28" fill="#fff" stroke="#ff00ff" stroke-width="0.85"/>
<polygon points="522.62,272.43 518.73,278.63 526.52,278.63" fill="#fff" stroke="#fff" stroke-width="2.2" stroke-linejoin="round"/>
<polygon points="522.62,272.43 518.73,278.63 526.52,278.63" fill="#fff" stroke="#ff00ff" stroke-width="0.85"/>
<polygon points="559.94,291.89 556.04,298.09 563.84,298.09" fill="#fff" stroke="#fff" stroke-width="2.2" stroke-linejoin="round"/>
<polygon points="559.94,291.89 556.04,298.09 563.84,298.09" fill="#fff" stroke="#ff00ff" stroke-width="0.85"/>
<polygon points="597.25,291.89 593.35,298.09 601.15,298.09" fill="#fff" stroke="#fff" stroke-width="2.2" stroke-linejoin="round"/>
<polygon points="597.25,291.89 593.35,298.09 601.15,298.09" fill="#fff" stroke="#ff00ff" stroke-width="0.85"/>
<polygon points="671.88,291.89 667.98,298.09 675.77,298.09" fill="#fff" stroke="#fff" stroke-width="2.2" stroke-linejoin="round"/>
<polygon points="671.88,291.89 667.98,298.09 675.77,298.09" fill="#fff" stroke="#ff00ff" stroke-width="0.85"/>
<polygon points="746.50,291.89 742.60,298.09 750.40,298.09" fill="#fff" stroke="#fff" stroke-width="2.2" stroke-linejoin="round"/>
<polygon points="746.50,291.89 742.60,298.09 750.40,298.09" fill="#fff" stroke="#ff00ff" stroke-width="0.85"/>
<line x1="440.8" y1="42.2" x2="761.9" y2="42.2" stroke="#000" stroke-width="2"/>
<line x1="440.8" y1="312.6" x2="761.9" y2="312.6" stroke="#000" stroke-width="2"/>
<line x1="440.8" y1="41.0" x2="440.8" y2="313.8" stroke="#0000ff" stroke-width="2.5"/>
<line x1="763.5" y1="42.2" x2="763.5" y2="312.6" stroke="#000" stroke-width="1"/>
<line x1="761.9" y1="41.2" x2="761.9" y2="313.6" stroke="#ff00ff" stroke-width="2.5"/>
<path d="M448.00,312.6V319.1M485.31,312.6V316.6M522.62,312.6V319.1M559.94,312.6V316.6M597.25,312.6V319.1M634.56,312.6V316.6M671.88,312.6V319.1M709.19,312.6V316.6M746.50,312.6V319.1" stroke="#000" stroke-width="2"/>
<text x="448.00" y="332.50" text-anchor="middle" style="font-size:14.50px;fill:#111">0</text>
<text x="522.62" y="332.50" text-anchor="middle" style="font-size:14.50px;fill:#111">10</text>
<text x="597.25" y="332.50" text-anchor="middle" style="font-size:14.50px;fill:#111">20</text>
<text x="671.88" y="332.50" text-anchor="middle" style="font-size:14.50px;fill:#111">30</text>
<text x="746.50" y="332.50" text-anchor="middle" style="font-size:14.50px;fill:#111">40</text>
<path d="M434.8,312.60H440.8M437.3,278.80H440.8M434.8,245.00H440.8M437.3,211.20H440.8M434.8,177.40H440.8M437.3,143.60H440.8M434.8,109.80H440.8M437.3,76.00H440.8M434.8,42.20H440.8" stroke="#0000ff" stroke-width="2.2"/>
<text x="430.70" y="317.00" text-anchor="end" style="font-size:14.50px;fill:#0000ff">230</text>
<text x="430.70" y="249.40" text-anchor="end" style="font-size:14.50px;fill:#0000ff">240</text>
<text x="430.70" y="181.80" text-anchor="end" style="font-size:14.50px;fill:#0000ff">250</text>
<text x="430.70" y="114.20" text-anchor="end" style="font-size:14.50px;fill:#0000ff">260</text>
<text x="430.70" y="46.60" text-anchor="end" style="font-size:14.50px;fill:#0000ff">270</text>
<path d="M761.9,312.60H767.9M761.9,285.56H765.4M761.9,258.52H767.9M761.9,231.48H765.4M761.9,204.44H767.9M761.9,177.40H765.4M761.9,150.36H767.9M761.9,123.32H765.4M761.9,96.28H767.9M761.9,69.24H765.4M761.9,42.20H767.9" stroke="#ff00ff" stroke-width="2.2"/>
<text x="771.00" y="316.90"  style="font-size:14.50px;fill:#ff00ff">0</text>
<text x="771.00" y="262.82"  style="font-size:14.50px;fill:#ff00ff">20</text>
<text x="771.00" y="208.74"  style="font-size:14.50px;fill:#ff00ff">40</text>
<text x="771.00" y="154.66"  style="font-size:14.50px;fill:#ff00ff">60</text>
<text x="771.00" y="100.58"  style="font-size:14.50px;fill:#ff00ff">80</text>
<text x="771.00" y="46.50"  style="font-size:14.50px;fill:#ff00ff">100</text>
<text x="600.90" y="355.00" text-anchor="middle" textLength="168.74" lengthAdjust="spacing" style="font-size:15.00px;fill:#111">Thickness of Al film (nm)</text>
<text transform="translate(398.20,179.80) rotate(-90)" text-anchor="middle" textLength="149.21" lengthAdjust="spacing" style="font-size:15.50px;fill:#0000ff">Absorption peak (nm)</text>
<text transform="translate(806.90,181.10) rotate(-90)" text-anchor="middle" textLength="183.96" lengthAdjust="spacing" style="font-size:16.00px;fill:#ff00ff">Sheet resistance (Kohm/sq)</text>
<text x="386.90" y="24.20" textLength="27.53" lengthAdjust="spacing" style="font-size:24.00px;fill:#111">(b)</text>
<line x1="546" y1="76.7" x2="570.7" y2="76.7" stroke="#0000ff" stroke-width="2.5"/>
<polygon points="536.5,76.8 548.3,73.5 548.3,80.2" fill="#0000ff" stroke="#0000ff" stroke-width="0.6" stroke-linejoin="round"/>
<text transform="translate(577.00,81.00) scale(1,1.120)" textLength="100.60" lengthAdjust="spacing" style="font-size:13.50px;fill:#0000ff">Absorption peak</text>
<text transform="translate(614.10,276.80) scale(1,1.120)" textLength="98.05" lengthAdjust="spacing" style="font-size:13.50px;fill:#ff00ff">Sheet resistance</text>
<line x1="715.6" y1="273" x2="740" y2="273" stroke="#ff00ff" stroke-width="2.5"/>
<polygon points="749,273 737.6,269.6 737.6,276.4" fill="#ff00ff" stroke="#ff00ff" stroke-width="0.6" stroke-linejoin="round"/>
</svg></body></html>
